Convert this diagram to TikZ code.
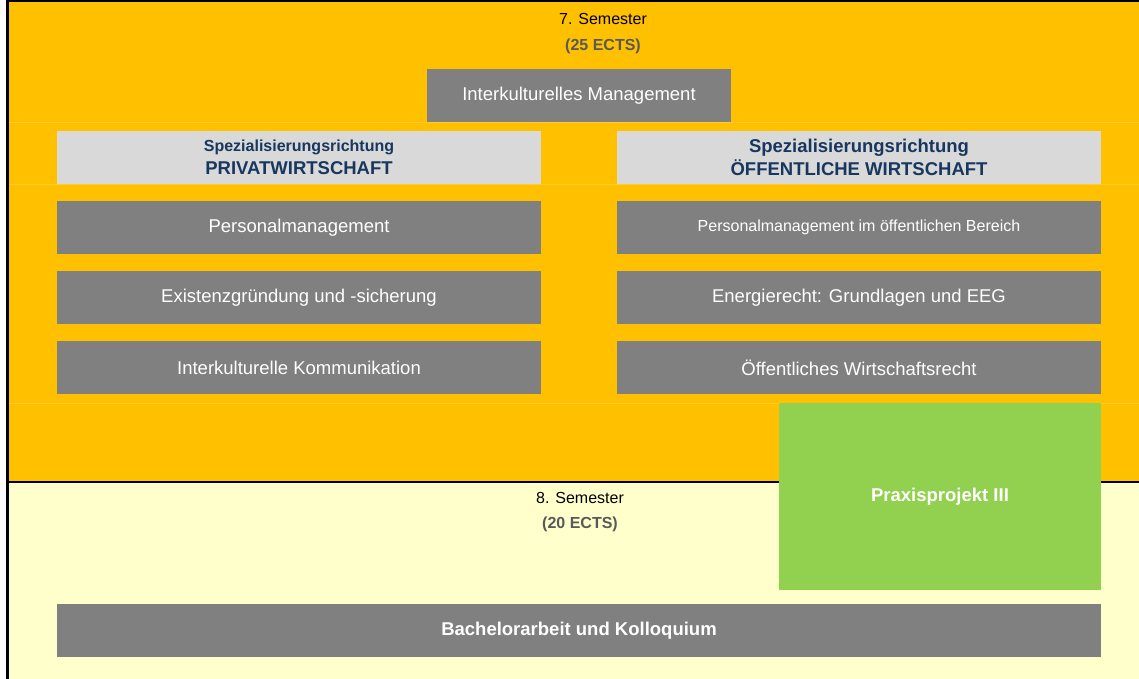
\documentclass[tikz,border=0pt]{standalone}
\usepackage{fontspec}
\setmainfont{Liberation Sans}
\usepackage{tikz}
\usetikzlibrary{shapes,backgrounds,positioning}
\definecolor{semorange}{HTML}{FFC000}
\definecolor{semyellow}{HTML}{FFFFCC}
\definecolor{modgray}{HTML}{808080}
\definecolor{headgray}{HTML}{D9D9D9}
\definecolor{headblue}{HTML}{17375E}
\definecolor{ectsgray}{HTML}{595959}
\definecolor{praxgreen}{HTML}{92D050}
\definecolor{cellline}{HTML}{FFCB33}
\tikzstyle{modul}=[rectangle, fill=modgray, text=white, minimum width=484pt, minimum height=53pt, inner sep=0pt, text centered, font=\fontsize{18.5}{22}\selectfont]
\tikzstyle{modulsmall}=[modul, font=\fontsize{16}{20}\selectfont]
\tikzstyle{spezhead}=[rectangle, fill=headgray, text=headblue, minimum width=484pt, minimum height=53pt, inner sep=0pt, align=center, font=\bfseries\fontsize{18.5}{23}\selectfont]
\tikzstyle{semlabel}=[inner sep=0pt, font=\fontsize{16}{19}\selectfont]
\tikzstyle{ects}=[inner sep=0pt, text=ectsgray, font=\bfseries\fontsize{16}{19}\selectfont]
\tikzstyle{praxis}=[rectangle, fill=praxgreen, text=white, minimum width=322pt, minimum height=187pt, inner sep=0pt, font=\bfseries\fontsize{18.5}{22}\selectfont]

\begin{document}
\begin{tikzpicture}[x=1pt,y=-1pt]
\useasboundingbox (0,0) rectangle (1139,679);
%Semester 7
\node[semlabel] (sem7) at (603,19){7. Semester};
\node[ects] (ects7) at (603,46){(25 ECTS)};
\node[modul, minimum width=304pt] (ikm) at (579,95.5){Interkulturelles Management};
%Heads
\node[spezhead] (priv) at (299,157.5){{\fontsize{16}{23}\selectfont Spezialisierungsrichtung}\\PRIVATWIRTSCHAFT};
\node[spezhead] (oeff) at (859,157.5){Spezialisierungsrichtung\\ÖFFENTLICHE WIRTSCHAFT};
%Row One
\node[modul] (priv1) at (299,227.5){Personalmanagement};
\node[modulsmall] (oeff1) at (859,227.5){Personalmanagement im öffentlichen Bereich};
%Row Two
\node[modul] (priv2) at (299,297.5){Existenzgründung und -sicherung};
\node[modul] (oeff2) at (859,297.5){Energierecht: Grundlagen und EEG};
%Row Three
\node[modul] (priv3) at (299,367.5){Interkulturelle Kommunikation};
\node[modul] (oeff3) at (859,367.5){Öffentliches Wirtschaftsrecht};
%Semester 8
\node[semlabel] (sem8) at (580,498){8. Semester};
\node[ects] (ects8) at (580,524){(20 ECTS)};
\node[praxis] (prax3) at (940,496.5){Praxisprojekt III};
\node[modul, minimum width=1044pt, font=\bfseries\fontsize{18.5}{22}\selectfont] (bach) at (579,630.5){Bachelorarbeit und Kolloquium};
%background
\begin{scope}[on background layer]
\fill[white](0,0) rectangle(1139,679);
\end{scope}

\begin{scope}[on background layer]
\fill[semorange](7.5,1) rectangle(1139,482);
\end{scope}

\begin{scope}[on background layer]
\fill[semyellow](7.5,482) rectangle(1139,679);
\end{scope}

\begin{scope}[on background layer]
\draw[cellline, line width=0.6pt](9,122.5) -- (1139,122.5);
\draw[cellline, line width=0.6pt](9,184.5) -- (1139,184.5);
\draw[cellline, line width=0.6pt](9,403) -- (1139,403);
\draw[black, line width=2.6pt](7.5,679) -- (7.5,1) -- (1139,1);
\draw[black, line width=2.3pt](7.5,482) -- (1139,482);
\end{scope}

\end{tikzpicture}
\end{document}
